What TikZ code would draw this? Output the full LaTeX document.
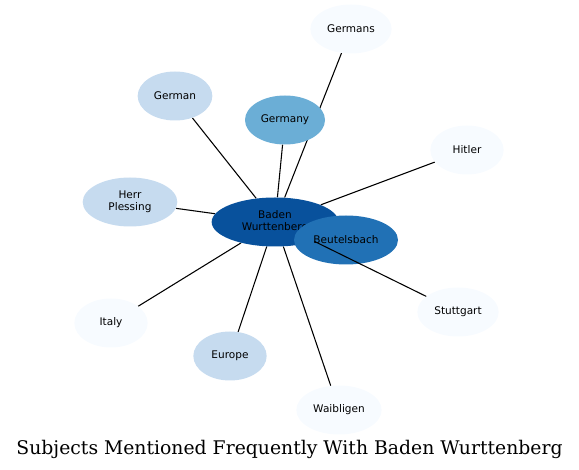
\documentclass[tikz,border=0pt]{standalone}
\usepackage{fontspec}
\newfontfamily\labelfont{DejaVu Sans}
\newfontfamily\titlefont{DejaVu Serif}
\usetikzlibrary{shapes.geometric,backgrounds}
\definecolor{blueA}{HTML}{08519C}
\definecolor{blueB}{HTML}{2171B5}
\definecolor{blueC}{HTML}{6BAED6}
\definecolor{blueD}{HTML}{C6DBEF}
\definecolor{blueE}{HTML}{F7FBFF}
\begin{document}
\begin{tikzpicture}[x=0.75pt, y=-0.75pt,
  subj/.style={ellipse, inner sep=0pt, minimum height=36.75pt, align=center,
    font=\labelfont\fontsize{7.9}{9}\selectfont},
  link/.style={draw=black, line width=0.8pt}]
  \useasboundingbox (0,0) rectangle (579,470);
  \node[subj, fill=blueA, minimum width=95pt] (baden) at (275,222) {Baden\\Wurttenberg};
  \node[subj, fill=blueB, minimum width=78pt] (beutelsbach) at (346,240) {Beutelsbach};
  \node[subj, fill=blueC, minimum width=60pt] (germany) at (285,120) {Germany};
  \node[subj, fill=blueD, minimum width=56pt] (german) at (175,96) {German};
  \node[subj, fill=blueD, minimum width=71pt] (plessing) at (130,202) {Herr\\Plessing};
  \node[subj, fill=blueD, minimum width=55pt] (europe) at (230,356) {Europe};
  \node[subj, fill=blueE, minimum width=61pt] (germans) at (351,29) {Germans};
  \node[subj, fill=blueE, minimum width=55pt] (hitler) at (467,150) {Hitler};
  \node[subj, fill=blueE, minimum width=61pt] (stuttgart) at (458,312) {Stuttgart};
  \node[subj, fill=blueE, minimum width=55pt] (italy) at (111,323) {Italy};
  \node[subj, fill=blueE, minimum width=64pt] (waibligen) at (339,410) {Waibligen};
  \begin{scope}[on background layer]
    \draw[link] (baden) -- (germans);
    \draw[link] (baden) -- (german);
    \draw[link] (baden) -- (germany);
    \draw[link] (baden) -- (hitler);
    \draw[link] (baden) -- (plessing);
    \draw[link] (baden) -- (italy);
    \draw[link] (baden) -- (europe);
    \draw[link] (baden) -- (waibligen);
  \end{scope}
  \draw[link] (baden) -- (stuttgart);
  \node[font=\titlefont\fontsize{14.1}{16}\selectfont] (title) at (289.5,449) {Subjects Mentioned Frequently With Baden Wurttenberg};
\end{tikzpicture}
\end{document}
